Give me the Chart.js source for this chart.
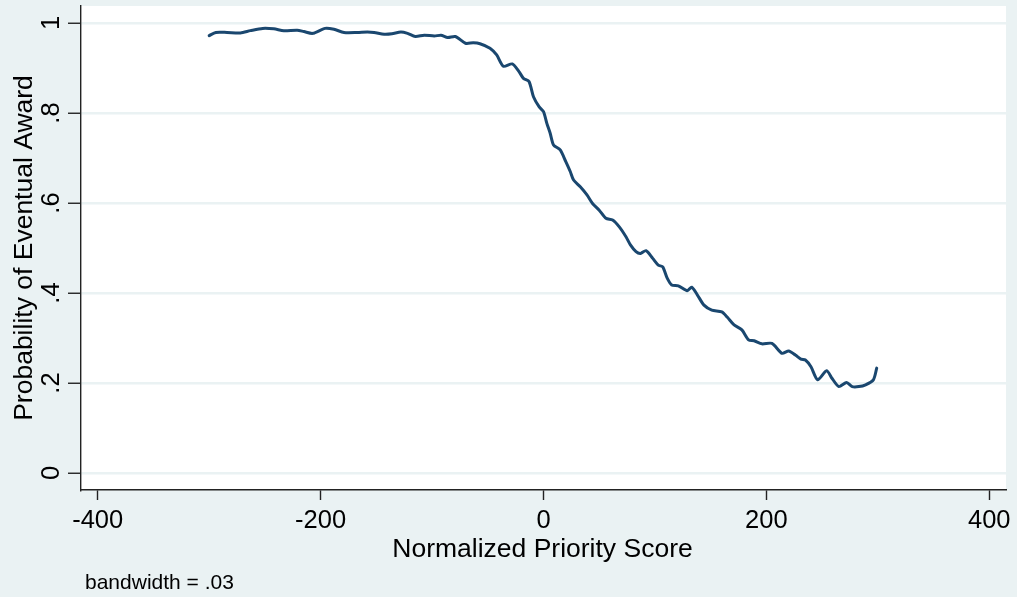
<!DOCTYPE html>
<html lang="en">
<head>
  <meta charset="UTF-8" />
  <title>Probability of Eventual Award</title>
  <script src="https://cdn.jsdelivr.net/npm/chart.js"></script>
  <style>
    body { margin: 0; background: #eaf2f3; }
    #chart { display: block; }
  </style>
</head>
<body>
  <canvas id="chart" width="1017" height="597"></canvas>

  <script>
    // normalized priority score (x) and smoothed probability of award (y)
    const scores = [
      -300, -294, -284, -272, -263, -252, -242, -233, -221, -215,
      -207, -196, -188, -179, -167, -158, -152, -143, -136, -128,
      -122, -115, -107, -98, -92, -86, -79, -70, -63, -57,
      -48, -42, -36, -28, -22, -18, -13, -9, -4, 0,
      3, 6, 9, 15, 20, 24, 27, 33, 39, 44,
      50, 56, 62, 68, 74, 78, 83, 87, 92, 98,
      103, 107, 111, 115, 121, 129, 133, 138, 144, 151,
      160, 165, 171, 178, 184, 189, 196, 205, 214, 220,
      226, 231, 235, 240, 246, 254, 259, 265, 272, 277,
      283, 289, 296, 299
    ];
    const probAward = [
      0.972, 0.979, 0.979, 0.978, 0.983, 0.988, 0.987, 0.983, 0.984, 0.981,
      0.977, 0.988, 0.986, 0.979, 0.979, 0.980, 0.979, 0.975, 0.976, 0.980,
      0.977, 0.970, 0.973, 0.971, 0.973, 0.968, 0.970, 0.955, 0.956, 0.954,
      0.944, 0.929, 0.904, 0.909, 0.892, 0.877, 0.870, 0.836, 0.814, 0.803,
      0.777, 0.755, 0.729, 0.718, 0.692, 0.670, 0.651, 0.636, 0.618, 0.599,
      0.584, 0.566, 0.562, 0.547, 0.525, 0.507, 0.492, 0.488, 0.494, 0.477,
      0.462, 0.458, 0.433, 0.418, 0.416, 0.405, 0.413, 0.396, 0.373, 0.362,
      0.358, 0.346, 0.329, 0.318, 0.296, 0.294, 0.287, 0.288, 0.266, 0.271,
      0.262, 0.253, 0.251, 0.236, 0.207, 0.227, 0.210, 0.192, 0.201, 0.192,
      0.192, 0.196, 0.207, 0.233
    ];

    const xTicks = [-400, -200, 0, 200, 400];
    const yTicks = [0, 0.2, 0.4, 0.6, 0.8, 1];
    const yTickLabels = ['0', '.2', '.4', '.6', '.8', '1'];

    const xTitle = 'Normalized Priority Score';
    const yTitle = 'Probability of Eventual Award';
    const note = 'bandwidth = .03';

    const bg = '#eaf2f3';
    const axisColor = '#222';
    const lineColor = '#1a476f';
    const fontName = '"Liberation Sans", Arial, sans-serif';

    const points = scores.map((s, i) => ({ x: s, y: probAward[i] }));

    // backgrounds, rotated y labels, titles and note
    const stataLook = {
      id: 'stataLook',
      beforeDraw(chart) {
        const ctx = chart.ctx;
        const a = chart.chartArea;
        ctx.save();
        ctx.fillStyle = bg;
        ctx.fillRect(0, 0, chart.width, chart.height);
        ctx.fillStyle = '#fff';
        ctx.fillRect(a.left, a.top, a.right - a.left, a.bottom - a.top);
        ctx.restore();
      },
      afterDraw(chart) {
        const ctx = chart.ctx;
        const a = chart.chartArea;
        const y = chart.scales.y;
        ctx.save();
        ctx.fillStyle = '#000';

        // y tick labels, turned like the axis title
        ctx.font = '25.5px ' + fontName;
        ctx.textAlign = 'center';
        ctx.textBaseline = 'alphabetic';
        yTicks.forEach((v, i) => {
          ctx.save();
          ctx.translate(58.5, y.getPixelForValue(v));
          ctx.rotate(-Math.PI / 2);
          ctx.fillText(yTickLabels[i], 0, 0);
          ctx.restore();
        });

        // y title
        ctx.font = '26.5px ' + fontName;
        ctx.save();
        ctx.translate(32, (a.top + a.bottom) / 2);
        ctx.rotate(-Math.PI / 2);
        ctx.fillText(yTitle, 0, 0);
        ctx.restore();

        // x title
        ctx.fillText(xTitle, (a.left + a.right) / 2 - 1, 557);

        // note
        ctx.font = '21px ' + fontName;
        ctx.textAlign = 'left';
        ctx.fillText(note, 85, 589);
        ctx.restore();
      }
    };

    const ctx = document.getElementById('chart').getContext('2d');
    new Chart(ctx, {
      type: 'line',
      data: {
        datasets: [{
          data: points,
          borderColor: lineColor,
          borderWidth: 3,
          borderCapStyle: 'round',
          borderJoinStyle: 'round',
          pointRadius: 0,
          tension: 0.25,
          fill: false
        }]
      },
      options: {
        responsive: false,
        animation: false,
        layout: { padding: { top: 6, right: 11, left: 0, bottom: 0 } },
        plugins: {
          legend: { display: false },
          tooltip: { enabled: false }
        },
        scales: {
          x: {
            type: 'linear',
            min: -415,
            max: 415,
            afterBuildTicks: s => { s.ticks = xTicks.map(v => ({ value: v })); },
            afterFit: s => { s.height = 107; },
            grid: {
              drawOnChartArea: false,
              drawTicks: true,
              tickLength: 10,
              tickColor: axisColor,
              tickWidth: 1.4
            },
            border: { display: true, color: axisColor, width: 1.4 },
            ticks: {
              color: '#000',
              font: { family: fontName, size: 25.5 },
              padding: 6,
              maxRotation: 0,
              minRotation: 0,
              callback: v => String(v)
            }
          },
          y: {
            type: 'linear',
            min: -17 / 450,
            max: 1 + 17 / 450,
            afterBuildTicks: s => { s.ticks = yTicks.map(v => ({ value: v })); },
            afterFit: s => { s.width = 81; },
            grid: {
              color: bg,
              lineWidth: 2.5,
              drawTicks: true,
              tickLength: 13,
              tickColor: axisColor,
              tickWidth: 1.4
            },
            border: { display: true, color: axisColor, width: 1.4 },
            ticks: { display: false }
          }
        }
      },
      plugins: [stataLook]
    });
  </script>
</body>
</html>
